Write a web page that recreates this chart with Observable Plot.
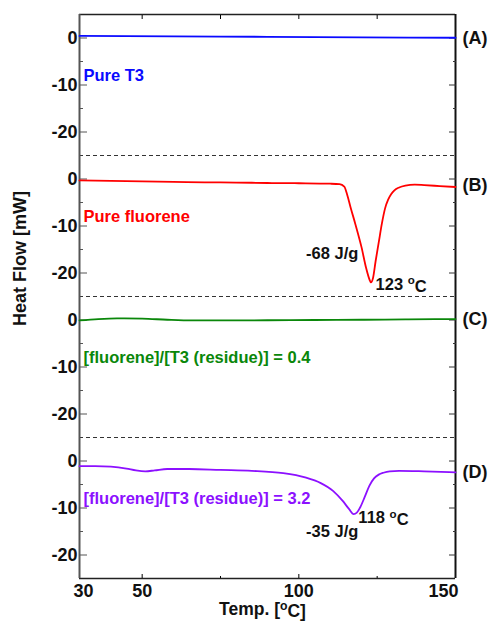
<!DOCTYPE html>
<html>
<head>
<meta charset="utf-8">
<script src="https://cdn.jsdelivr.net/npm/d3@7"></script>
<script src="https://cdn.jsdelivr.net/npm/@observablehq/plot@0.6"></script>
<style>
  html, body { margin: 0; padding: 0; background: #fff; }
  svg { display: block; }
</style>
</head>
<body>
<div id="chart"></div>
<script>
// ---- Data ----
const panels = ["A", "B", "C", "D"];
const panelLetters = ["(A)", "(B)", "(C)", "(D)"];
const letterLevels = [-0.1, -1.4, 0.1, -2.3];
const sampleNames = ["Pure T3", "Pure fluorene", "[fluorene]/[T3 (residue)] = 0.4", "[fluorene]/[T3 (residue)] = 3.2"];
const seriesColors = ["#0a0aff", "#ff0000", "#0a870a", "#8c10ff"];

// Pure T3 (A)
const tempA = [30, 60, 90, 120, 150];
const hfA   = [0.45, 0.35, 0.25, 0.15, 0.05];
// Pure fluorene (B)
const tempB = [30, 40, 50, 60, 70, 80, 90, 100, 110, 113, 114.5, 115.5, 116.5, 118, 120, 121.5, 122.5, 123, 123.7, 124.5, 125.5, 126.5, 127.5, 128.5, 129.5, 130.5, 132, 134, 137, 140, 145, 150];
const hfB   = [-0.3, -0.4, -0.5, -0.6, -0.7, -0.75, -0.85, -0.9, -1.0, -1.1, -1.6, -3.5, -6.0, -9.5, -14.5, -19.0, -21.3, -22.0, -21.0, -17.5, -13.5, -9.5, -6.3, -4.4, -3.2, -2.4, -1.8, -1.4, -1.2, -1.3, -1.5, -1.7];
// ratio 0.4 (C)
const tempC = [30, 36, 42, 50, 58, 66, 75, 90, 105, 120, 135, 150];
const hfC   = [-0.1, 0.2, 0.35, 0.3, 0.05, -0.1, -0.1, -0.05, 0, 0.05, 0.15, 0.2];
// ratio 3.2 (D)
const tempD = [30, 35, 40, 45, 48, 51, 54, 58, 65, 75, 85, 95, 102, 107, 111, 114, 116, 117.5, 118.5, 119.7, 121, 122.5, 124, 125.5, 127, 129, 132, 140, 150];
const hfD   = [-1.1, -1.1, -1.2, -1.6, -2.0, -2.2, -2.0, -1.7, -1.7, -1.9, -2.1, -2.6, -3.5, -4.7, -6.4, -8.5, -10.2, -11.3, -11.0, -9.7, -7.7, -5.3, -3.7, -2.9, -2.5, -2.2, -2.1, -2.2, -2.4];

// Peak annotations
const annPanels = ["B", "B", "D", "D"];
const annTexts  = ["-68 J/g", "123 °C", "-35 J/g", "118 °C"];
const annTemps  = [119.0, 124.5, 119.0, 119.0];
const annLevels = [-15.9, -22.4, -15.0, -12.1];
const annAnchors = ["end", "start", "end", "start"];

const yDomain = [-25, 5];
const xDomain = [30, 150];
const yMajor = [0, -10, -20];
const yMinor = [-5, -15];
const xLabelTicks = [50, 100];
const xMajorBottom = [50, 100];
const xMinorBottom = [75, 125];
const xTopTicks = [50, 75, 100, 125];

// ---- Build tables ----
const temps = [tempA, tempB, tempC, tempD];
const hfs = [hfA, hfB, hfC, hfD];
const rows = panels.flatMap((p, i) => temps[i].map((t, j) => ({panel: p, T: t, hf: hfs[i][j]})));
const labelRows = panels.map((p, i) => ({panel: p, text: sampleNames[i]}));
const letterRows = panels.map((p, i) => ({panel: p, text: panelLetters[i], y: letterLevels[i]}));
const annRows = annTexts.map((t, i) => ({panel: annPanels[i], text: t, T: annTemps[i], hf: annLevels[i], anchor: annAnchors[i]}));
const annStart = annRows.filter(d => d.anchor === "start");
const annEnd = annRows.filter(d => d.anchor === "end");

const font = "'Liberation Sans', Arial, sans-serif";

const chart = Plot.plot({
  width: 490,
  height: 621,
  marginLeft: 79,
  marginRight: 35,
  marginTop: 14,
  marginBottom: 43,
  style: {fontFamily: font, background: "white", overflow: "visible"},
  x: {domain: xDomain},
  y: {domain: yDomain},
  fy: {domain: panels, padding: 0, axis: null, label: null},
  color: {domain: panels, range: seriesColors},
  marks: [
    // separators and frame
    Plot.ruleY(panels.slice(0, 3).map(p => ({panel: p})), {fy: "panel", y: yDomain[0], stroke: "#333", strokeDasharray: "4,3", strokeWidth: 1.2}),
    Plot.ruleY([{panel: "A"}], {fy: "panel", y: yDomain[1], stroke: "#222", strokeWidth: 1.5}),
    Plot.ruleY([{panel: "D"}], {fy: "panel", y: yDomain[0], stroke: "#222", strokeWidth: 1.5}),
    Plot.ruleX([xDomain[0]], {stroke: "#555", strokeWidth: 2}),
    Plot.ruleX([xDomain[1]], {stroke: "#111", strokeWidth: 2}),
    // y axes
    Plot.axisY({ticks: yMajor, tickSize: -8, tickPadding: 10, fontSize: 18, fontWeight: "bold", fill: "#111", stroke: "#555", label: null, tickFormat: d => d}),
    Plot.axisY({ticks: yMinor, tickSize: -4, text: null, stroke: "#555", label: null}),
    Plot.axisY({anchor: "right", ticks: yMajor, tickSize: -7, text: null, stroke: "#333", label: null}),
    Plot.axisY({anchor: "right", ticks: yMinor, tickSize: -3, text: null, stroke: "#333", label: null}),
    // x axes
    Plot.axisX({anchor: "bottom", ticks: xMajorBottom, tickSize: -4, text: null, label: null}),
    Plot.axisX({anchor: "bottom", ticks: xMinorBottom, tickSize: -2, text: null, label: null}),
    Plot.axisX({anchor: "top", ticks: xTopTicks, tickSize: -4, text: null, label: null}),
    Plot.axisX({anchor: "bottom", ticks: xLabelTicks, tickSize: 0, tickPadding: 6, fontSize: 18, fontWeight: "bold", fill: "#111", label: null}),
    Plot.axisX({anchor: "bottom", ticks: [xDomain[0]], tickSize: 0, tickPadding: 6, fontSize: 18, fontWeight: "bold", fill: "#111", textAnchor: "start", dx: -6, label: null}),
    Plot.axisX({anchor: "bottom", ticks: [xDomain[1]], tickSize: 0, tickPadding: 6, fontSize: 18, fontWeight: "bold", fill: "#111", textAnchor: "end", dx: 3, label: null}),
    // curves
    Plot.lineY(rows, {x: "T", y: "hf", fy: "panel", stroke: "panel", strokeWidth: 1.8, curve: "monotone-x"}),
    // sample labels
    Plot.text(labelRows, {fy: "panel", x: xDomain[0], y: -8, text: "text", fill: "panel", textAnchor: "start", dx: 4, fontSize: 16.5, fontWeight: "bold"}),
    // panel letters
    Plot.text(letterRows, {fy: "panel", x: xDomain[1], y: "y", text: "text", textAnchor: "start", dx: 7, fontSize: 18, fontWeight: "bold", fill: "#111"}),
    // peak annotations
    Plot.text(annEnd, {fy: "panel", x: "T", y: "hf", text: "text", textAnchor: "end", fontSize: 16.5, fontWeight: "bold", fill: "#111"}),
    Plot.text(annStart, {fy: "panel", x: "T", y: "hf", text: "text", textAnchor: "start", fontSize: 16.5, fontWeight: "bold", fill: "#111"}),
    // axis titles
    Plot.text([{panel: "D"}], {fy: "panel", frameAnchor: "bottom", text: () => "Temp. [°C]", dx: -5, dy: 31, lineAnchor: "middle", fontSize: 17.5, fontWeight: "bold", fill: "#111"}),
    Plot.text([{panel: "B"}], {fy: "panel", frameAnchor: "left", text: () => "Heat Flow [mW]", dx: -59, dy: 100, rotate: -90, lineAnchor: "middle", fontSize: 18, fontWeight: "bold", fill: "#111"})
  ]
});

document.getElementById("chart").appendChild(chart);

// Render the degree sign as a raised small "o" as in the original figure
chart.querySelectorAll("text").forEach(el => {
  if (el.children.length === 0 && el.textContent.includes("°")) {
    const [before, after] = el.textContent.split("°");
    el.textContent = "";
    const ns = "http://www.w3.org/2000/svg";
    el.appendChild(document.createTextNode(before));
    const sup = document.createElementNS(ns, "tspan");
    sup.setAttribute("font-size", "70%");
    sup.setAttribute("dy", "-0.45em");
    sup.textContent = "o";
    el.appendChild(sup);
    const rest = document.createElementNS(ns, "tspan");
    rest.setAttribute("dy", "0.45em");
    rest.textContent = after;
    el.appendChild(rest);
  }
});
</script>
</body>
</html>
